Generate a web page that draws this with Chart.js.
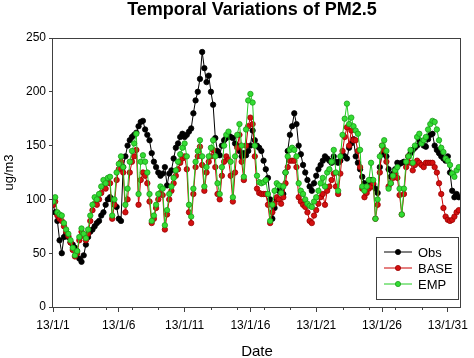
<!DOCTYPE html>
<html>
<head>
<meta charset="utf-8">
<script src="https://cdn.jsdelivr.net/npm/chart.js@4.4.1/dist/chart.umd.min.js"></script>
<style>
html,body{margin:0;padding:0;background:#fff;}
#wrap{width:474px;height:358px;position:relative;}
</style>
</head>
<body>
<div id="wrap"><canvas id="c" width="474" height="358"></canvas></div>
<script>
// ---- data ----
const chartTitle = 'Temporal Variations of PM2.5';
const tickLabels = ['13/1/1','13/1/6','13/1/11','13/1/16','13/1/21','13/1/26','13/1/31'];
const majorDays = [0,5,10,15,20,25,30];
const minorDays = [2,4,6,8,12,14,16,18,22,24,26,28];
const yTicks = [0,50,100,150,200,250];
const stepHours = 4; // one value every 4 hours from 13/1/1 00:00

const obs = [
 95,88,80,62,50,65,  68,65,60,58,55,52,  45,42,48,58,65,70,  72,75,78,80,85,88,
 95,100,102,100,95,93,  82,80,130,140,150,155,  158,160,162,168,172,173,  165,160,155,143,135,130,
 125,122,124,130,113,124,  127,138,148,152,158,161,  158,160,163,166,180,192,  200,212,237,222,209,215,
 200,188,157,145,141,150,  155,157,160,158,157,152,  150,145,140,143,141,145,  150,164,155,150,148,145,
 136,128,120,100,82,92,  100,108,112,105,125,145,  160,168,180,170,150,142,  132,125,118,112,108,115,
 122,128,132,136,140,138,  136,134,140,135,134,136,  142,140,138,148,152,156,  140,134,128,121,115,114,
 112,118,114,110,106,130,  142,146,140,128,121,124,  128,134,133,134,135,134,  140,143,146,148,150,155,
 153,150,149,156,160,161,  150,146,143,140,138,136,  140,125,108,102,105,102
];
const base = [
 95,98,85,82,80,75,  70,66,60,53,47,50,  62,70,66,62,68,80,  90,96,95,100,106,112,
 110,116,115,82,95,118,  128,135,125,88,100,125,  135,140,146,95,118,125,  122,115,98,78,82,92,
 100,106,104,72,86,100,  108,115,122,128,134,138,  140,128,88,78,105,130,  140,149,132,108,125,135,
 140,146,130,105,100,122,  135,140,137,122,98,125,  148,160,135,118,150,168,  176,170,140,110,106,105,
 105,105,95,78,88,96,  102,100,96,102,115,130,  136,136,136,130,102,98,  95,93,88,80,78,85,
 90,96,102,105,95,108,  112,118,124,112,105,124,  145,158,167,150,164,155,  155,145,130,110,102,106,
 110,112,115,82,95,125,  150,146,135,112,115,120,  124,120,104,86,105,130,  140,134,127,132,136,134,
 132,130,134,134,134,134,  130,125,115,105,92,84,  81,80,81,84,88,90
];
const emp = [
 98,102,88,86,85,78,  72,68,62,55,48,52,  65,73,68,64,72,85,  95,102,100,105,112,118,
 115,120,121,85,100,125,  133,140,130,95,110,135,  145,152,161,105,135,141,  135,125,105,80,85,95,
 105,112,110,76,90,105,  112,120,127,135,142,148,  152,140,95,84,110,135,  145,155,140,112,130,140,
 148,155,140,115,105,130,  150,160,163,135,102,140,  160,170,150,121,165,192,  198,190,150,122,116,115,
 116,118,105,80,95,108,  115,113,106,112,125,140,  146,148,146,140,115,108,  105,100,96,94,93,98,
 102,108,115,120,112,125,  128,135,146,125,108,140,  160,175,189,170,176,168,  164,161,146,112,108,112,
 118,134,118,82,100,140,  150,155,145,110,115,122,  127,130,110,86,110,135,  140,146,134,150,158,161,
 152,155,158,165,170,173,  172,165,155,148,144,138,  136,132,124,121,127,130
];

const seriesNames = ['Obs','BASE','EMP'];

// ---- build ----
function toPoints(arr){ return arr.map((v,i)=>({x:i*stepHours/24, y:v})); }

const styles = [
  {line:'#000000', fill:'#000000', edge:'#000000'},
  {line:'#cc0000', fill:'#d41010', edge:'#9a0000'},
  {line:'#22cc22', fill:'#33dd33', edge:'#1b9b1b'}
];
const allSeries = [obs, base, emp];

const datasets = allSeries.map((arr, k)=>({
  label: seriesNames[k],
  data: toPoints(arr),
  borderColor: styles[k].line,
  borderWidth: 1,
  pointRadius: 2.7,
  pointBorderWidth: 0.8,
  pointBackgroundColor: styles[k].fill,
  pointBorderColor: styles[k].edge,
  tension: 0,
  order: 3-k
}));

const framePlugin = {
  id: 'frame',
  afterDraw(chart){
    const {ctx, chartArea:a, scales} = chart;
    ctx.save();
    // frame
    ctx.strokeStyle = '#404040';
    ctx.lineWidth = 1;
    ctx.strokeRect(Math.round(a.left)-0.5, Math.round(a.top)+0.5, Math.round(a.right-a.left), Math.round(a.bottom-a.top));
    // minor x ticks
    const xs = scales.x;
    ctx.beginPath();
    minorDays.forEach(d=>{
      const px = Math.round(xs.getPixelForValue(d))+0.5;
      ctx.moveTo(px, a.bottom);
      ctx.lineTo(px, a.bottom+3);
    });
    ctx.stroke();
    // title
    ctx.fillStyle = '#000';
    ctx.font = 'bold 18px Arial, "Liberation Sans", sans-serif';
    ctx.textAlign = 'center';
    ctx.textBaseline = 'alphabetic';
    ctx.fillText(chartTitle, 252, 15);
    // legend
    const lx = 376, ly = 237, lw = 82, lh = 62;
    ctx.fillStyle = '#fff';
    ctx.fillRect(lx, ly, lw, lh);
    ctx.strokeStyle = '#404040';
    ctx.strokeRect(lx+0.5, ly+0.5, lw, lh);
    ctx.font = '13px Arial, "Liberation Sans", sans-serif';
    ctx.textAlign = 'left';
    ctx.textBaseline = 'middle';
    chart.data.datasets.forEach((ds, k)=>{
      const y = ly + 15 + k*16;
      ctx.strokeStyle = ds.borderColor;
      ctx.lineWidth = 1;
      ctx.beginPath();
      ctx.moveTo(lx+8, y); ctx.lineTo(lx+36, y); ctx.stroke();
      ctx.beginPath();
      ctx.arc(lx+22, y, 2.6, 0, Math.PI*2);
      ctx.fillStyle = ds.pointBackgroundColor;
      ctx.fill();
      ctx.strokeStyle = ds.pointBorderColor;
      ctx.lineWidth = 0.8;
      ctx.stroke();
      ctx.fillStyle = '#000';
      ctx.fillText(ds.label, lx+42, y+1);
    });
    ctx.restore();
  }
};

new Chart(document.getElementById('c'), {
  type: 'line',
  data: { datasets },
  options: {
    responsive: false,
    animation: false,
    events: [],
    layout: { padding: { top: 38, right: 2, left: 0, bottom: 0 } },
    plugins: { legend: { display: false }, tooltip: { enabled: false } },
    scales: {
      x: {
        type: 'linear', min: 0, max: 31,
        afterBuildTicks: s => { s.ticks = majorDays.map(v=>({value:v})); },
        afterFit: s => { s.height = 51; },
        border: { display: false },
        grid: { drawOnChartArea: false, drawTicks: true, tickLength: 5, color: '#404040' },
        ticks: {
          autoSkip: false, maxRotation: 0, padding: 6, color: '#000',
          font: { family: 'Arial, "Liberation Sans", sans-serif', size: 12 },
          callback: v => tickLabels[majorDays.indexOf(v)]
        },
        title: { display: true, text: 'Date', color: '#000', padding: { top: 0, bottom: -3 },
          font: { family: 'Arial, "Liberation Sans", sans-serif', size: 15 } }
      },
      y: {
        min: 0, max: 250,
        afterBuildTicks: s => { s.ticks = yTicks.map(v=>({value:v})); },
        afterFit: s => { s.width = 53; },
        border: { display: false },
        grid: { drawOnChartArea: false, drawTicks: true, tickLength: 4, color: '#404040' },
        ticks: { padding: 3, color: '#000',
          font: { family: 'Arial, "Liberation Sans", sans-serif', size: 12 } },
        title: { display: true, text: 'ug/m3', color: '#000', padding: { top: 2, bottom: 0 },
          font: { family: 'Arial, "Liberation Sans", sans-serif', size: 13 } }
      }
    }
  },
  plugins: [framePlugin]
});
</script>
</body>
</html>
